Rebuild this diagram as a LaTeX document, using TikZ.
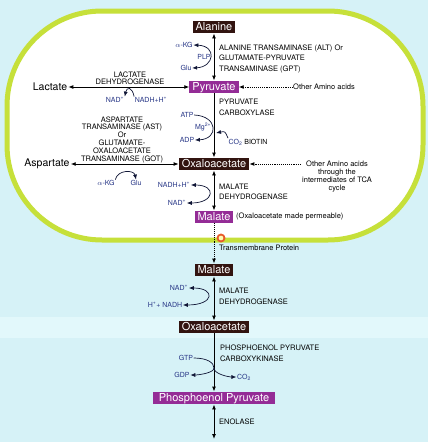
\documentclass[tikz,border=0pt]{standalone}
\usepackage{fontspec}
\setmainfont{TeX Gyre Heros}
\usetikzlibrary{arrows.meta}
\definecolor{cellbg}{RGB}{214,242,247}
\definecolor{bandbg}{RGB}{226,248,251}
\definecolor{membrane}{RGB}{198,224,58}
\definecolor{darkfill}{RGB}{50,20,16}
\definecolor{purplefill}{RGB}{148,44,150}
\definecolor{cofblue}{RGB}{40,55,135}
\definecolor{protein}{RGB}{232,90,40}
\tikzset{
  >={Latex[length=5pt,width=4pt]},
  metab/.style={text=white, font=\fontsize{11}{11}\selectfont, inner xsep=3pt, inner ysep=1pt, text height=8.5pt, text depth=2pt},
  darkbox/.style={metab, fill=darkfill},
  purplebox/.style={metab, fill=purplefill},
  enz/.style={font=\fontsize{7.5}{10.5}\selectfont, align=left, anchor=west, inner sep=0pt},
  cof/.style={text=cofblue, font=\fontsize{7}{7}\selectfont, inner sep=0.5pt},
  side/.style={font=\fontsize{10.5}{10.5}\selectfont, inner sep=1pt},
  path/.style={line width=0.9pt},
  cofpath/.style={line width=0.7pt, cofblue!40!black},
}
\begin{document}
\begin{tikzpicture}[x=1pt, y=-1pt]
    % Background and cell
    \fill [cellbg] (0,0) rectangle (428,442);
    \fill [bandbg] (0,317) rectangle (428,338);
    \draw [membrane, line width=5pt, fill=white, rounded corners=95pt] (7,11) rectangle (423,240);
    % Metabolites
    \node [darkbox] (ala) at (214,27) {Alanine};
    \node [purplebox] (pyr) at (214,87) {Pyruvate};
    \node [darkbox] (oaain) at (214,164) {Oxaloacetate};
    \node [purplebox] (malin) at (214,217) {Malate};
    \node [darkbox] (malout) at (214,270) {Malate};
    \node [darkbox] (oaaout) at (214,327) {Oxaloacetate};
    \node [purplebox, inner xsep=6pt] (pep) at (214,398) {Phosphoenol Pyruvate};
    \coordinate (enol) at (214,439);
    \node [side] (lac) at (50,87) {Lactate};
    \node [side] (asp) at (47,164) {Aspartate};
    % Enzymes
    \node [enz] (alt) at (219,58.5) {ALANINE TRANSAMINASE (ALT) Or\\GLUTAMATE-PYRUVATE\\TRANSAMINASE (GPT)};
    \node [enz, font=\fontsize{7.5}{11}\selectfont] (pc) at (219,107.5) {PYRUVATE\\CARBOXYLASE};
    \node [enz, anchor=center, align=center, font=\fontsize{7.5}{7}\selectfont] (ldh) at (130,78.5) {LACTATE\\DEHYDROGENASE};
    \node [enz, anchor=center, align=center, font=\fontsize{7.5}{7.8}\selectfont] (ast) at (122,139.5) {ASPARTATE\\TRANSAMINASE (AST)\\Or\\GLUTAMATE-\\OXALOACETATE\\TRANSAMINASE (GOT)};
    \node [enz, font=\fontsize{7.5}{10.5}\selectfont] (mdhin) at (219,192) {MALATE\\DEHYDROGENASE};
    \node [enz, font=\fontsize{7.5}{11}\selectfont] (mdhout) at (219,296) {MALATE\\DEHYDROGENASE};
    \node [enz, font=\fontsize{7.5}{11}\selectfont] (pepck) at (220,353.5) {PHOSPHOENOL PYRUVATE\\CARBOXYKINASE};
    \node [enz] (eno) at (219,422) {ENOLASE};
    % Other labels
    \node [enz] (other1) at (293,87) {Other Amino acids};
    \node [enz, anchor=center, align=center, font=\fontsize{7.5}{8}\selectfont] (other2) at (337,177) {Other Amino acids\\through the\\intermediates of TCA\\cycle};
    \coordinate (tcastart) at (301,164);
    \node [enz] (perm) at (236,217) {(Oxaloacetate made permeable)};
    \node [enz] (tmp) at (219,248) {Transmembrane Protein};
    % Cofactors
    \node [cof] (akg1) at (184,45) {$\alpha$-KG};
    \node [cof] (glu1) at (186,68) {Glu};
    \node [cof] (plp) at (204,57) {PLP};
    \node [cof] (nad1) at (115,100) {NAD\textsuperscript{+}};
    \node [cof] (nadh1) at (151,100) {NADH+H\textsuperscript{+}};
    \node [cof] (atp) at (187,115) {ATP};
    \node [cof] (mg) at (203,127) {Mg\textsuperscript{2+}};
    \node [cof] (adp) at (187,140) {ADP};
    \node [cof, anchor=west, text=black] (co2a) at (228,142) {\textcolor{cofblue}{CO\textsubscript{2}} BIOTIN};
    \coordinate (co2tip) at (216,133);
    \node [cof] (akg2) at (106,183) {$\alpha$-KG};
    \node [cof] (glu2) at (136,183) {Glu};
    \node [cof] (nadh2) at (174,185) {NADH+H\textsuperscript{+}};
    \node [cof] (nad2) at (177,203) {NAD\textsuperscript{+}};
    \node [cof] (nad3) at (179,288) {NAD\textsuperscript{+}};
    \node [cof] (nadh3) at (165,305) {H\textsuperscript{+}+ NADH};
    \node [cof] (gtp) at (186,358) {GTP};
    \node [cof] (gdp) at (182,375) {GDP};
    \node [cof] (co2b) at (244,377) {CO\textsubscript{2}};
    \coordinate (gtpjoin) at (214,368);
    % Main reactions
    \draw [path, <->] (ala) -- (pyr);
    \draw [path, <->] (lac) -- (pyr);
    \draw [path, ->] (pyr) -- (oaain);
    \draw [path, <->] (asp) -- (oaain);
    \draw [path, <->] (oaain) -- (malin);
    \draw [path, ->, densely dotted] (malin) -- (malout);
    \draw [path, <->] (malout) -- (oaaout);
    \draw [path, ->] (oaaout) -- (pep);
    \draw [path, <->] (pep) -- (enol);
    \draw [path, ->, densely dotted] (other1) -- (pyr);
    \draw [path, ->, densely dotted] (tcastart) -- (oaain);
    % Transmembrane protein
    \draw [protein, line width=1.8pt, fill=yellow!30] (221,238) circle [radius=3.5];
    % Cofactor curves
    \draw [cofpath, <->] (akg1.east) .. controls +(24,1) and +(22,-1) .. (glu1.east);
    \draw [cofpath, ->] (nadh1.north west) .. controls +(-2,-10) and +(2,-10) .. (nad1.north east);
    \draw [cofpath, ->] (atp.east) .. controls +(24,1) and +(24,-1) .. (adp.east);
    \draw [cofpath, ->] (co2a.north west) .. controls +(-3,-7) .. (co2tip);
    \draw [cofpath, ->] (akg2.north east) .. controls +(2,-10) and +(-2,-10) .. (glu2.north);
    \draw [cofpath, <->] (nadh2.east) .. controls +(26,0) and +(28,0) .. (nad2.east);
    \draw [cofpath, <->] (nad3.east) .. controls +(27,0) and +(32,0) .. (nadh3.east);
    \draw [cofpath] (gtp.east) .. controls +(14,0) and +(0,-5) .. (gtpjoin);
    \draw [cofpath, ->] (gtpjoin) .. controls +(0,5) and +(8,0) .. (gdp.east);
    \draw [cofpath, ->] (gtpjoin) .. controls +(0,6) and +(-8,0) .. (co2b.west);
\end{tikzpicture}
\end{document}
